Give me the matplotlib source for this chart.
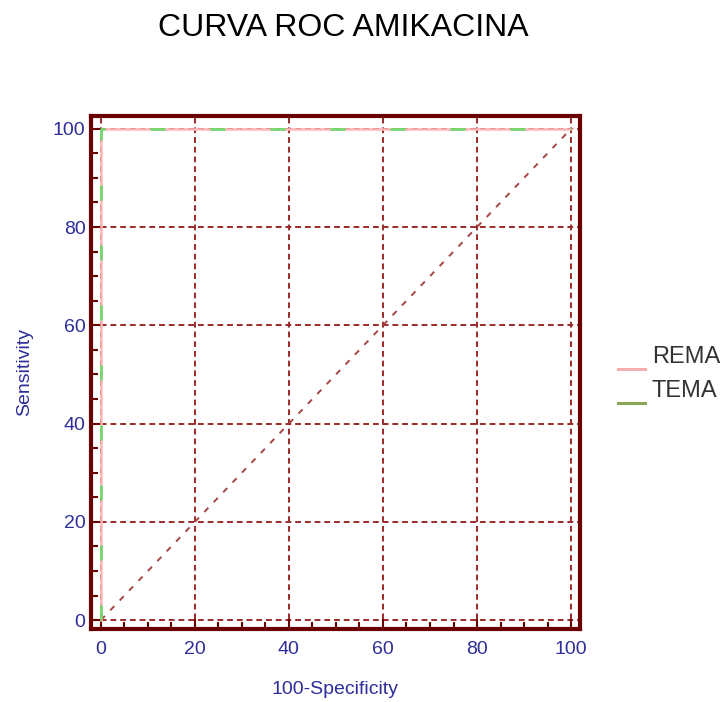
import matplotlib
matplotlib.use("Agg")
import matplotlib.pyplot as plt
from matplotlib.lines import Line2D
from matplotlib.ticker import MultipleLocator

plt.rcParams['font.family'] = ['Liberation Sans', 'DejaVu Sans']

title = "CURVA ROC AMIKACINA"
rema_x = [0, 0, 100]
rema_y = [0, 100, 100]
tema_x = [0, 0, 100]
tema_y = [0, 100, 100]
diag_x = [0, 100]
diag_y = [0, 100]
ticks = [0, 20, 40, 60, 80, 100]
series_names = ["REMA", "TEMA"]
legend_colors = ["#f4b0b0", "#88a858"]

fig = plt.figure(figsize=(7.26, 7.02), dpi=100)
ax = fig.add_axes([0.1253, 0.104, 0.6736, 0.7308])

grid_col = "#9b2a2a"
for t in ticks:
    ax.axvline(t, color=grid_col, lw=1.4, ls=(0, (3, 2)), zorder=1)
    ax.axhline(t, color=grid_col, lw=1.4, ls=(0, (3, 2)), zorder=1)

ax.plot(diag_x, diag_y, color="#a84444", lw=1.4, ls=(0, (3, 4)), zorder=2)
ax.plot(rema_x, rema_y, color="#ffb6b6", lw=1.8, zorder=3)
ax.plot(tema_x, tema_y, color="#66dd66", lw=1.8, ls=(0, (6, 18)), zorder=4)

ax.set_xlim(-2.1, 101.9)
ax.set_ylim(-1.8, 102.6)
ax.set_xticks(ticks)
ax.set_yticks(ticks)
ax.xaxis.set_minor_locator(MultipleLocator(5))
ax.yaxis.set_minor_locator(MultipleLocator(5))
ax.tick_params(which="both", direction="in", color="#6b0000", width=1.5,
               labelcolor="#2e2e9a", labelsize=14)
ax.tick_params(which="major", length=7)
ax.tick_params(which="minor", length=5)
ax.tick_params(axis="x", pad=9)
ax.tick_params(axis="y", pad=4)
for s in ax.spines.values():
    s.set_color("#6b0000")
    s.set_linewidth(3)

ax.set_xlabel("100-Specificity", color="#2e2e9a", fontsize=14, labelpad=16)
ax.set_ylabel("Sensitivity", color="#2e2e9a", fontsize=14, labelpad=14)

fig.text(0.4725, 0.960, title, ha="center", va="center", fontsize=23, color="black")

# legend drawn in figure coordinates: line handle sits below the text
text_y = [0.4915, 0.443]
for name, col, ty in zip(series_names, legend_colors, text_y):
    fig.text(0.898, ty, name, ha="left", va="center", fontsize=17, color="#333333")
    fig.add_artist(Line2D([0.851, 0.888], [ty - 0.0175, ty - 0.0175],
                          transform=fig.transFigure, color=col, lw=2.2))

fig.savefig("out.png", dpi=100)
